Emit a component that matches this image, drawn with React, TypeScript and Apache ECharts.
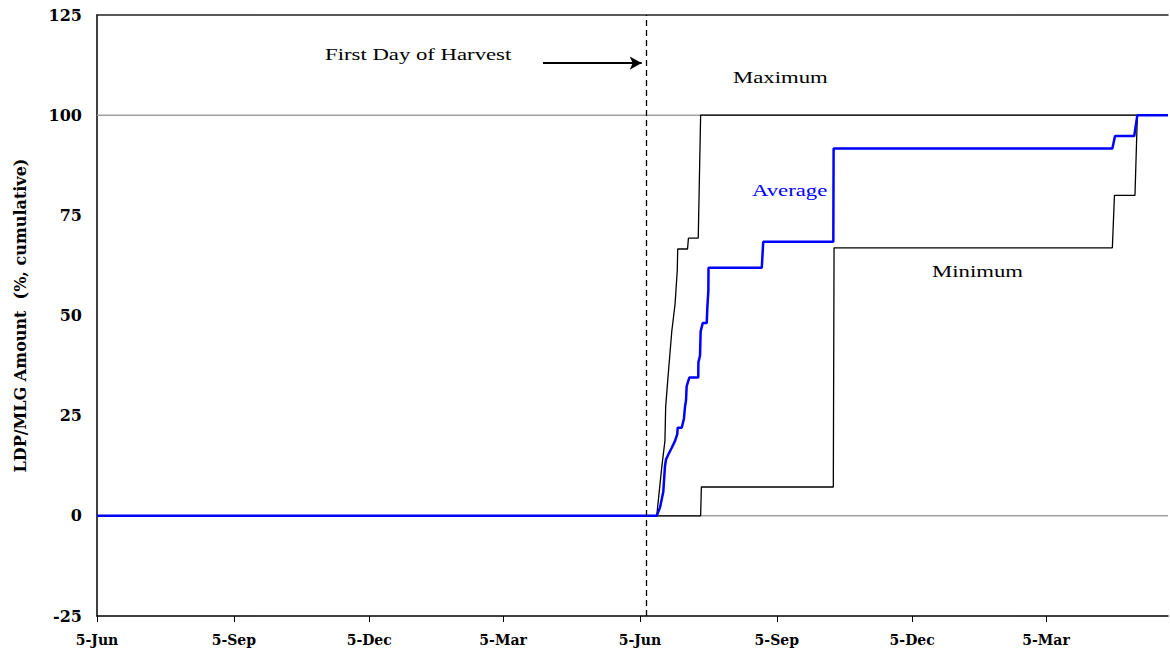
import React, { useEffect, useRef } from "react";
import * as echarts from "echarts";

// Days counted from 5-Jun of the first season
const tickDays = [0, 92, 183, 273, 365, 457, 548, 638];
const tickLabels = ["5-Jun", "5-Sep", "5-Dec", "5-Mar", "5-Jun", "5-Sep", "5-Dec", "5-Mar"];
const xMax = 720;

const yTicks = { min: -25, max: 125, interval: 25 };

const maximumSeries: [number, number][] = [
  [0, 0], [376.3, 0], [379.6, 11.9], [381.8, 18.7], [382.3, 27.2], [384.1, 35.7],
  [386.4, 46], [388.6, 52.8], [390.1, 61.3], [390.4, 66.6], [397.0, 66.6],
  [397.6, 69.3], [404.2, 69.3], [405.8, 100], [720, 100],
];

const minimumSeries: [number, number][] = [
  [0, 0], [405.8, 0], [406.3, 7.2], [495.0, 7.2], [495.5, 66.9], [682.6, 66.9],
  [684.0, 80.0], [697.8, 80.0], [699.4, 100], [720, 100],
];

const averageSeries: [number, number][] = [
  [0, 0], [376.3, 0], [378.5, 2.1], [380.7, 6], [381.8, 12.3], [382.5, 14],
  [384.1, 15.3], [386.4, 17], [388.6, 18.7], [390.1, 20.4], [390.4, 22],
  [393.1, 22], [394.6, 24.3], [395.3, 27.2], [396.0, 28.9], [396.4, 32.3],
  [398.2, 34.5], [404.2, 34.5], [404.3, 38.3], [405.4, 40], [405.8, 46],
  [407.2, 48.1], [409.9, 48.1], [410.3, 51.9], [411.0, 56.2], [411.1, 61.9],
  [446.9, 61.9], [447.9, 68.4], [495.0, 68.4], [495.2, 91.7], [682.6, 91.7],
  [684.4, 94.8], [697.3, 94.8], [699.4, 100], [720, 100],
];

const referenceLevels = [0, 100];
const harvestDay = 369.5;
const arrowFrom: [number, number] = [299.8, 113];
const arrowTo: [number, number] = [366.2, 113];

const serif = "'Liberation Serif', 'Times New Roman', serif";
const wideSerif = "'DejaVu Serif', serif";

export default function App() {
  const ref = useRef<HTMLDivElement>(null);

  useEffect(() => {
    if (!ref.current) return;
    const chart = echarts.init(ref.current, null, { renderer: "svg" });
    const labelMap: Record<number, string> = {};
    tickDays.forEach((d, i) => (labelMap[d] = tickLabels[i]));

    const annot = (text: string, x: number, y: number, color = "#000") => ({
      type: "text",
      x,
      y,
      scaleX: 1.3,
      z: 10,
      style: {
        text,
        fill: color,
        font: `17.5px ${serif}`,
        textAlign: "left",
        textVerticalAlign: "middle",
      },
    });

    const refSeries = referenceLevels.map((lvl, i) => ({
      name: `ref${i}`,
      type: "line",
      data: [
        [0, lvl],
        [xMax, lvl],
      ],
      symbol: "none",
      showSymbol: false,
      silent: true,
      z: 1,
      lineStyle: { color: "#a0a0a0", width: 1.5 },
    }));

    chart.setOption({
      animation: false,
      backgroundColor: "#fff",
      grid: { left: 97, right: 2, top: 15, bottom: 40, containLabel: false },
      xAxis: [
        {
          type: "value",
          min: 0,
          max: xMax,
          position: "bottom",
          axisLine: { show: true, onZero: false, lineStyle: { color: "#000", width: 1.5 } },
          axisTick: {
            show: true,
            customValues: tickDays,
            length: 6,
            lineStyle: { color: "#000", width: 1 },
          },
          axisLabel: {
            customValues: tickDays,
            formatter: (v: number) => labelMap[Math.round(v)] ?? "",
            color: "#000",
            fontFamily: wideSerif,
            fontWeight: "bold",
            fontSize: 14,
            margin: 17,
          },
          splitLine: { show: false },
        },
        {
          type: "value",
          min: 0,
          max: xMax,
          position: "top",
          axisLine: { show: true, onZero: false, lineStyle: { color: "#222", width: 1.5 } },
          axisTick: { show: false },
          axisLabel: { show: false },
          splitLine: { show: false },
        },
      ],
      yAxis: {
        type: "value",
        min: yTicks.min,
        max: yTicks.max,
        interval: yTicks.interval,
        name: "LDP/MLG Amount  (%, cumulative)",
        nameLocation: "middle",
        nameGap: 69,
        nameTextStyle: {
          color: "#000",
          fontFamily: wideSerif,
          fontWeight: "bold",
          fontSize: 16,
        },
        axisLine: { show: true, onZero: false, lineStyle: { color: "#000", width: 1.5 } },
        axisTick: { show: false },
        axisLabel: {
          color: "#000",
          fontFamily: wideSerif,
          fontWeight: "bold",
          fontSize: 16,
          margin: 15,
        },
        splitLine: { show: false },
      },
      graphic: [
        annot("First Day of Harvest", 325, 54),
        annot("Maximum", 733, 77),
        annot("Average", 752, 190, "#0000ff"),
        annot("Minimum", 932, 271),
      ],
      series: [
        ...refSeries,
        {
          name: "harvest",
          type: "line",
          data: [],
          z: 2,
          silent: true,
          markLine: {
            silent: true,
            symbol: "none",
            label: { show: false },
            lineStyle: { color: "#000", width: 1.3, type: [6, 4] },
            data: [{ xAxis: harvestDay }],
          },
        },
        {
          name: "arrow",
          type: "line",
          data: [],
          z: 2,
          silent: true,
          markLine: {
            silent: true,
            symbol: ["none", "arrow"],
            symbolSize: [10, 12],
            label: { show: false },
            lineStyle: { color: "#000", width: 2, type: "solid" },
            data: [[{ coord: arrowFrom }, { coord: arrowTo }]],
          },
        },
        {
          name: "Maximum",
          type: "line",
          data: maximumSeries,
          showSymbol: false,
          symbol: "none",
          z: 3,
          lineStyle: { color: "#000", width: 1.3 },
        },
        {
          name: "Minimum",
          type: "line",
          data: minimumSeries,
          showSymbol: false,
          symbol: "none",
          z: 3,
          lineStyle: { color: "#000", width: 1.3 },
        },
        {
          name: "Average",
          type: "line",
          data: averageSeries,
          showSymbol: false,
          symbol: "none",
          z: 4,
          lineStyle: { color: "#0000ff", width: 2.5 },
        },
      ],
    });

    return () => chart.dispose();
  }, []);

  return (
    <div
      ref={ref}
      style={{ position: "absolute", left: 0, top: 0, width: 1170, height: 656 }}
    />
  );
}
